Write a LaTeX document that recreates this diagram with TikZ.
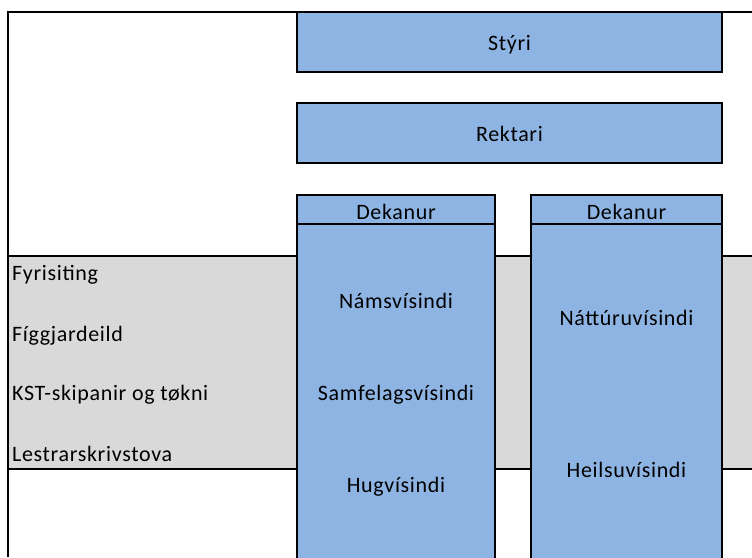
\documentclass[tikz,border=0pt]{standalone}
\usepackage{fontspec}
\setmainfont{Carlito}[LetterSpace=3]
\definecolor{boxblue}{HTML}{8EB4E3}
\definecolor{bandgray}{HTML}{D9D9D9}
\tikzset{
  bluebox/.style={draw=black, line width=2pt, fill=boxblue},
  frameline/.style={draw=black, line width=2pt},
  lbl/.style={anchor=base, inner sep=0pt, font=\fontsize{22}{26}\selectfont},
  sidelbl/.style={anchor=base west, inner sep=0pt, font=\fontsize{22}{26}\selectfont}
}
\begin{document}
\begin{tikzpicture}[x=1pt, y=-1pt]
\useasboundingbox (0,0) rectangle (752,557);
% gray band
\fill[bandgray] (8,256) rectangle (752,469);
\draw[frameline] (8,256) -- (752,256);
\draw[frameline] (8,469) -- (752,469);
% outer frame
\draw[frameline] (752,12) -- (8,12) -- (8,557);
% boxes
\draw[bluebox] (297,12) rectangle (722,72);
\draw[bluebox] (297,103) rectangle (722,163);
\draw[bluebox] (297,224) rectangle (495,560);
\draw[bluebox] (297,195) rectangle (495,224);
\draw[bluebox] (531,224) rectangle (722,560);
\draw[bluebox] (531,195) rectangle (722,224);
% texts
\node[lbl] (styri) at (509.5,50) {Stýri};
\node[lbl] (rektari) at (509.5,141) {Rektari};
\node[lbl] (dek1) at (396,219) {Dekanur};
\node[lbl] (dek2) at (626.5,219) {Dekanur};
\node[lbl] (nams) at (396,308) {Námsvísindi};
\node[lbl] (samf) at (396,400) {Samfelagsvísindi};
\node[lbl] (hugv) at (396,492) {Hugvísindi};
\node[lbl] (natt) at (626.5,325) {Náttúruvísindi};
\node[lbl] (heil) at (626.5,477) {Heilsuvísindi};
\node[sidelbl] (fyri) at (12,280) {Fyrisiting};
\node[sidelbl] (figg) at (12,341) {Fíggjardeild};
\node[sidelbl] (kst) at (12,400) {KST-skipanir og tøkni};
\node[sidelbl] (lest) at (12,461) {Lestrarskrivstova};
\end{tikzpicture}
\end{document}
